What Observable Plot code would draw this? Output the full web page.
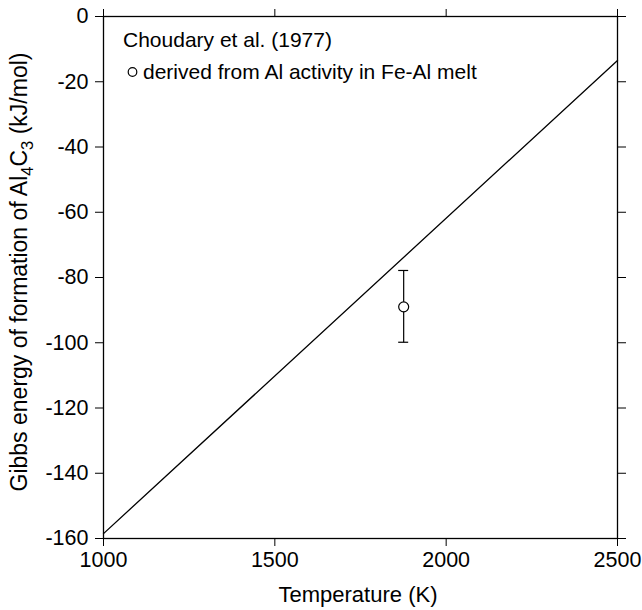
<!DOCTYPE html>
<html><head><meta charset="utf-8">
<script src="https://cdn.jsdelivr.net/npm/d3@7"></script>
<script src="https://cdn.jsdelivr.net/npm/@observablehq/plot@0.6"></script>
<style>body{margin:0;background:#fff;} svg{font-family:"Liberation Sans",Arial,Helvetica,sans-serif;}</style>
</head><body><div id="chart"></div>
<script>
const lineT = [1000, 2500];
const lineG = [-158.5, -13.5];
const ptT = [1876];
const ptG = [-89];
const ptLo = [-100];
const ptHi = [-78];
const xTicks = [1000, 1500, 2000, 2500];
const yTicks = [-160, -140, -120, -100, -80, -60, -40, -20, 0];
const legendTitle = "Choudary et al. (1977)";
const legendItem = "derived from Al activity in Fe-Al melt";

const lineData = lineT.map((t, i) => ({t, g: lineG[i]}));
const pts = ptT.map((t, i) => ({t, g: ptG[i], lo: ptLo[i], hi: ptHi[i]}));
const fmt = d => String(d);
const blank = () => "";

const plot = Plot.plot({
  width: 642, height: 610,
  marginLeft: 103, marginRight: 25, marginTop: 16, marginBottom: 72,
  style: {fontSize: "21.5px", fontFamily: "'Liberation Sans', Arial, sans-serif", color: "#000", background: "#fff"},
  x: {type: "linear", domain: [1000, 2500]},
  y: {type: "linear", domain: [-160, 0]},
  marks: [
    Plot.frame({stroke: "#000", strokeWidth: 1.3}),
    Plot.axisX({ticks: xTicks, tickFormat: fmt, tickSize: 8, tickPadding: 5, label: null, fontSize: 21.5}),
    Plot.axisX({anchor: "top", ticks: xTicks, tickSize: 8, tickFormat: blank, label: null}),
    Plot.axisY({ticks: yTicks, tickFormat: fmt, tickSize: 8, tickPadding: 7, label: null, fontSize: 21.5}),
    Plot.axisY({anchor: "right", ticks: yTicks, tickSize: 8, tickFormat: blank, label: null}),
    Plot.line(lineData, {x: "t", y: "g", stroke: "#000", strokeWidth: 1.3}),
    Plot.ruleX(pts, {x: "t", y1: "lo", y2: "hi", stroke: "#000", strokeWidth: 1.2}),
    Plot.dot(pts, {x: "t", y: "g", r: 5, stroke: "#000", fill: "#fff", strokeWidth: 1.2})
  ]
});

document.getElementById("chart").appendChild(plot);
const svg = d3.select(plot);
const xs = plot.scale("x"), ys = plot.scale("y");
// error bar caps (positioned through Plot's scales)
pts.forEach(p => {
  [p.lo, p.hi].forEach(v => {
    svg.append("line").attr("x1", xs.apply(p.t) - 5).attr("x2", xs.apply(p.t) + 5)
      .attr("y1", ys.apply(v)).attr("y2", ys.apply(v)).attr("stroke", "#000").attr("stroke-width", 1.2);
  });
});
// legend inside plot
svg.append("text").attr("text-anchor", "start").attr("x", 123).attr("y", 47).attr("font-size", 21).text(legendTitle);
svg.append("circle").attr("cx", 132.5).attr("cy", 72).attr("r", 4.3).attr("fill", "none").attr("stroke", "#000").attr("stroke-width", 1.2);
svg.append("text").attr("text-anchor", "start").attr("x", 143).attr("y", 79).attr("font-size", 21).text(legendItem);
// x label
svg.append("text").attr("text-anchor", "middle").attr("x", 358).attr("y", 602).attr("font-size", 22).text("Temperature (K)");
// y label with subscripts
const yl = svg.append("text").attr("transform", "translate(27,272) rotate(-90)").attr("text-anchor", "middle").attr("font-size", 23);
yl.append("tspan").text("Gibbs energy of formation of Al");
yl.append("tspan").attr("font-size", 16.5).attr("dy", 6).text("4");
yl.append("tspan").attr("dy", -6).text("C");
yl.append("tspan").attr("font-size", 16.5).attr("dy", 6).text("3");
yl.append("tspan").attr("dy", -6).text(" (kJ/mol)");
</script></body></html>
